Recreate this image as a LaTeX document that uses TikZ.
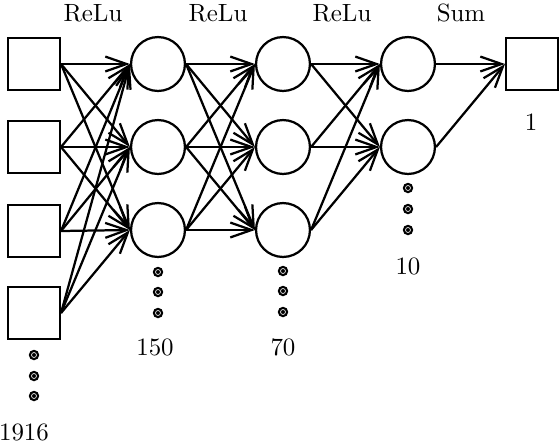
\documentclass[tikz,border=0pt]{standalone}
\usetikzlibrary{arrows.meta}

\tikzstyle{iS}=[rectangle,minimum size = 0.73cm,inner sep = 0pt,draw,line width=0.9pt]
\tikzstyle{nS}=[circle,minimum size = 0.76cm,inner sep = 0pt,draw,line width=0.9pt]
\tikzstyle{eS}=[line width=0.9pt,-{Straight Barb[length=3mm,width=2.1mm]}]
\tikzstyle{dS}=[circle,minimum size = 0.07cm,inner sep = 0pt,fill=black,draw=black,line width=0.9pt,double=white,double distance=0.25pt]
\tikzstyle{lS}=[inner sep = 0pt, font=\normalsize]

\begin{document}
\begin{tikzpicture}[x=0.0141cm,y=-0.0141cm]
    \useasboundingbox (0,0) rectangle (560,442);
    % input layer
    \draw (34,64) node[iS] (i1) {};
    \draw (34,147) node[iS] (i2) {};
    \draw (34,231) node[iS] (i3) {};
    \draw (34,313) node[iS] (i4) {};
    % hidden layers
    \draw (158,64) node[nS] (a1) {};
    \draw (158,147) node[nS] (a2) {};
    \draw (158,230) node[nS] (a3) {};
    \draw (283,64) node[nS] (b1) {};
    \draw (283,147) node[nS] (b2) {};
    \draw (283,230) node[nS] (b3) {};
    \draw (408,64) node[nS] (c1) {};
    \draw (408,147) node[nS] (c2) {};
    % output
    \draw (532,64) node[iS] (o1) {};

    \path
        (i1.east) edge[eS] (a1.west)
        (i1.east) edge[eS] (a2.west)
        (i1.east) edge[eS] (a3.west)
        (i2.east) edge[eS] (a1.west)
        (i2.east) edge[eS] (a2.west)
        (i2.east) edge[eS] (a3.west)
        (i3.east) edge[eS] (a1.west)
        (i3.east) edge[eS] (a2.west)
        (i3.east) edge[eS] (a3.west)
        (i4.east) edge[eS] (a1.west)
        (i4.east) edge[eS] (a2.west)
        (i4.east) edge[eS] (a3.west)
        (a1.east) edge[eS] (b1.west)
        (a1.east) edge[eS] (b2.west)
        (a1.east) edge[eS] (b3.west)
        (a2.east) edge[eS] (b1.west)
        (a2.east) edge[eS] (b2.west)
        (a2.east) edge[eS] (b3.west)
        (a3.east) edge[eS] (b1.west)
        (a3.east) edge[eS] (b2.west)
        (a3.east) edge[eS] (b3.west)
        (b1.east) edge[eS] (c1.west)
        (b1.east) edge[eS] (c2.west)
        (b2.east) edge[eS] (c1.west)
        (b2.east) edge[eS] (c2.west)
        (b3.east) edge[eS] (c1.west)
        (b3.east) edge[eS] (c2.west)
        (c1.east) edge[eS] (o1.west)
        (c2.east) edge[eS] (o1.west)
    ;

    % dots
    \draw (34,355) node[dS] (di1) {};
    \draw (34,376) node[dS] (di2) {};
    \draw (34,396) node[dS] (di3) {};
    \draw (158,272) node[dS] (da1) {};
    \draw (158,292) node[dS] (da2) {};
    \draw (158,313) node[dS] (da3) {};
    \draw (283,271) node[dS] (db1) {};
    \draw (283,291) node[dS] (db2) {};
    \draw (283,312) node[dS] (db3) {};
    \draw (408,188) node[dS] (dc1) {};
    \draw (408,209) node[dS] (dc2) {};
    \draw (408,230) node[dS] (dc3) {};

    % labels
    \draw (93,13) node[lS] (l1) {ReLu};
    \draw (218,13) node[lS] (l2) {ReLu};
    \draw (342,13) node[lS] (l3) {ReLu};
    \draw (461,13) node[lS] (l4) {Sum};
    \draw (531,122) node[lS] (ni) {1};
    \draw (408,266) node[lS] (nc) {10};
    \draw (155,347) node[lS] (na) {150};
    \draw (283,347) node[lS] (nb) {70};
    \draw (24,432) node[lS] (nx) {1916};
\end{tikzpicture}
\end{document}
